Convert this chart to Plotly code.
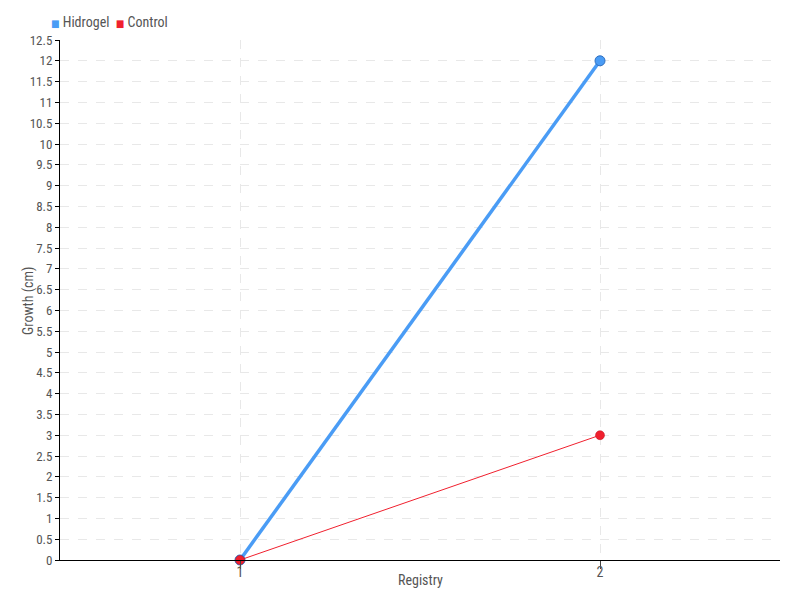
import plotly.graph_objects as go

registry = [1, 2]
hidrogel = [0, 12]
control = [0, 3]
series_names = ["Hidrogel", "Control"]
y_ticks = [i * 0.5 for i in range(26)]
y_labels = [("%g" % v) for v in y_ticks]

blue = "#4a9cf5"
red = "#f0202e"
font_family = "Roboto Condensed, Liberation Sans Narrow, DejaVu Sans Condensed, Roboto, sans-serif"

fig = go.Figure()
fig.add_trace(go.Scatter(x=registry, y=hidrogel, mode="lines+markers", name=series_names[0],
                         line=dict(color=blue, width=3.5), cliponaxis=False,
                         marker=dict(size=10, color=blue, line=dict(color="#2f6fc0", width=1)),
                         showlegend=False))
fig.add_trace(go.Scatter(x=registry, y=control, mode="lines+markers", name=series_names[1],
                         line=dict(color=red, width=1), cliponaxis=False,
                         marker=dict(size=9, color=red, line=dict(color="#c01020", width=0.5)),
                         showlegend=False))

# compact legend drawn as text
fig.add_annotation(xref="paper", yref="paper", x=-0.015, y=1.0, yshift=18,
                   xanchor="left", yanchor="middle", showarrow=False,
                   text=("<span style='color:%s;font-size:10px'>■</span> %s  "
                         "<span style='color:%s;font-size:10px'>■</span> %s")
                        % (blue, series_names[0], red, series_names[1]),
                   font=dict(size=14, color="#555555", family=font_family))
# y axis title
fig.add_annotation(xref="paper", yref="paper", x=-0.0445, y=0.5,
                   xanchor="center", yanchor="middle", showarrow=False, textangle=-90,
                   text="Growth (cm)", font=dict(size=14, color="#555555", family=font_family))
# x axis title
fig.add_annotation(xref="paper", yref="paper", x=0.5, y=0.0, yshift=-20,
                   xanchor="center", yanchor="middle", showarrow=False,
                   text="Registry", font=dict(size=14, color="#555555", family=font_family))

fig.update_layout(
    width=800, height=600,
    margin=dict(l=60, r=20, t=40, b=40, autoexpand=False),
    paper_bgcolor="white", plot_bgcolor="white",
    font=dict(family=font_family, size=14, color="#555555"),
    showlegend=False,
)
fig.update_xaxes(range=[0.5, 2.5], tickvals=registry, ticktext=[str(r) for r in registry],
                 showline=True, linecolor="black", linewidth=1,
                 ticks="outside", ticklen=8, tickcolor="#444444",
                 ticklabelstandoff=-9,
                 showgrid=True, gridcolor="#e8e8e8", griddash="dash", zeroline=False,
                 tickfont=dict(size=14))
fig.update_yaxes(range=[0, 12.5], tickvals=y_ticks, ticktext=y_labels,
                 showline=True, linecolor="black", linewidth=1,
                 ticks="outside", ticklen=4, tickcolor="black",
                 showgrid=True, gridcolor="#e8e8e8", griddash="dash", zeroline=False,
                 tickfont=dict(size=13))

fig.write_html("out.html", config={"displayModeBar": False},
               post_script="document.body.style.margin='0';")
